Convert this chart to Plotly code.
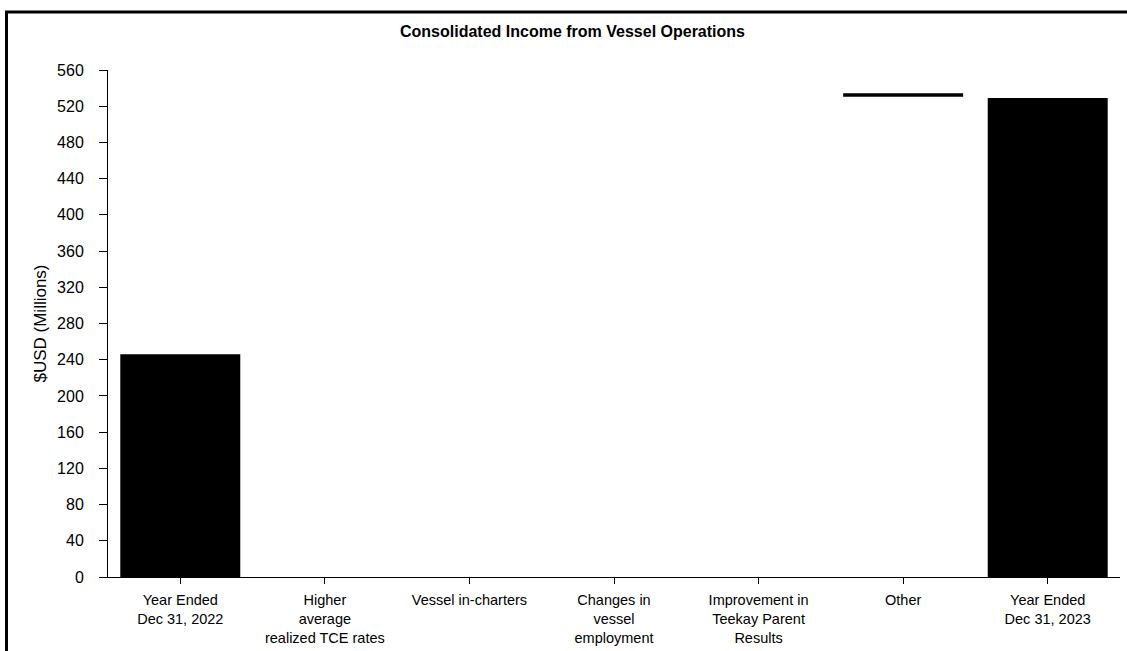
import plotly.graph_objects as go

categories = [
    "Year Ended<br>Dec 31, 2022",
    "Higher<br>average<br>realized TCE rates",
    "Vessel in-charters",
    "Changes in<br>vessel<br>employment",
    "Improvement in<br>Teekay Parent<br>Results",
    "Other",
    "Year Ended<br>Dec 31, 2023",
]
bar_base = [0, None, None, None, None, 530.5, 0]
bar_height = [246, None, None, None, None, 3.7, 529]
y_ticks = list(range(0, 561, 40))

FONT = "Liberation Sans, Arial, sans-serif"

fig = go.Figure()
fig.add_trace(go.Bar(
    x=categories, y=bar_height, base=bar_base,
    marker=dict(color="black", line=dict(width=0)),
    width=0.83, showlegend=False, hoverinfo="skip",
))

L, R, T, B = 108, 7, 70, 74
W, H = 1127, 651
pw, ph = W - L - R, H - T - B

fig.update_layout(
    width=W, height=H,
    margin=dict(l=L, r=R, t=T, b=B, autoexpand=False),
    paper_bgcolor="white", plot_bgcolor="white",
    font=dict(family=FONT, color="black", size=14.5),
    title=dict(text="<b>Consolidated Income from Vessel Operations</b>",
               x=572.5 / W, xanchor="center", y=1 - 31 / H, yanchor="middle",
               font=dict(size=16, family=FONT, color="black")),
    xaxis=dict(
        type="category", showline=True, linecolor="black", linewidth=1,
        ticks="outside", ticklen=6, tickcolor="black", tickwidth=1,
        showgrid=False, zeroline=False, tickfont=dict(size=14.5),
        ticklabelstandoff=4,
        range=[-0.5, 6.5],
    ),
    yaxis=dict(
        range=[0, 560], tickvals=y_ticks, showline=True, linecolor="black",
        linewidth=1, ticks="outside", ticklen=8, tickcolor="black",
        showgrid=False, zeroline=False, tickfont=dict(size=16),
        ticklabelstandoff=12,
        title=dict(text="$USD (Millions)", font=dict(size=17), standoff=6),
    ),
    shapes=[dict(
        type="rect", xref="paper", yref="paper",
        x0=(6.5 - L) / pw, x1=(W + 20 - L) / pw,
        y0=(H - B - (H + 20)) / ph, y1=(H - B - 12) / ph,
        line=dict(color="black", width=3), fillcolor="rgba(0,0,0,0)",
        layer="above",
    )],
)

fig.write_html(
    "out.html",
    config={"displayModeBar": False},
    post_script="document.body.style.margin='0';document.body.style.overflow='hidden';",
)
